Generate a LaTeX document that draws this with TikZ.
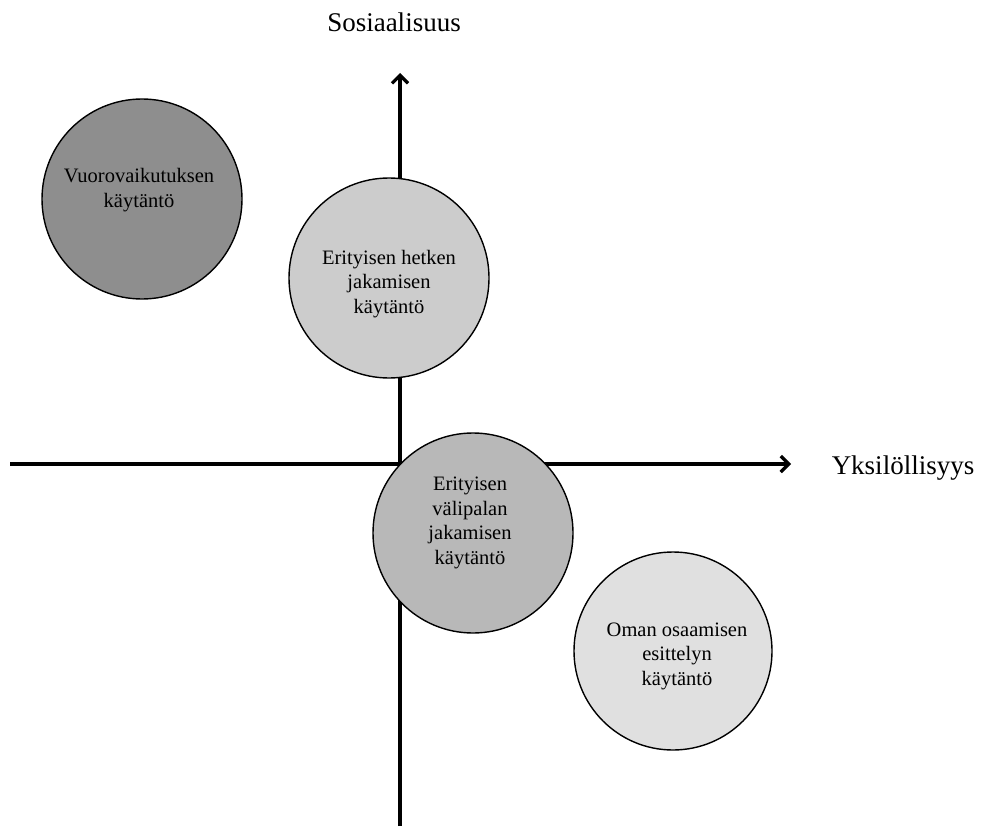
\documentclass[tikz,border=0pt]{standalone}
\usepackage{fontspec}
\setmainfont{Liberation Serif}
\usetikzlibrary{arrows.meta}
\definecolor{cdark}{HTML}{8E8E8E}
\definecolor{cmid}{HTML}{B8B8B8}
\definecolor{clight}{HTML}{CCCCCC}
\definecolor{cpale}{HTML}{E0E0E0}
\tikzset{
  axis/.style={line width=3.2pt,-{Straight Barb[length=8pt,width=16pt,line width=3.2pt]}},
  bubble/.style={circle,draw=black,line width=1.4pt,inner sep=0pt,minimum size=200pt},
  btext/.style={align=center,font=\fontsize{20.5}{24.5}\selectfont},
  axlabel/.style={font=\fontsize{27}{30}\selectfont}
}
\begin{document}
\begin{tikzpicture}[x=1pt,y=-1pt]
\useasboundingbox (0,0) rectangle (981,826);
\coordinate (vb) at (400,826);
\coordinate (vt) at (400,73);
\coordinate (hl) at (10,464);
\coordinate (hr) at (791,464);
\draw[axis] (vb) -- (vt);
\draw[axis] (hl) -- (hr);
\node[axlabel] (ylab) at (394,22) {Sosiaalisuus};
\node[axlabel] (xlab) at (903,468) {Yksilöllisyys};
\node[bubble,fill=cdark] (c1) at (142,199) {};
\node[btext] (t1) at (139,190) {Vuorovaikutuksen\\käytäntö};
\node[bubble,fill=clight] (c2) at (389,278) {};
\node[btext] (t2) at (389,284) {Erityisen hetken\\jakamisen\\käytäntö};
\node[bubble,fill=cmid] (c3) at (473,533) {};
\node[btext] (t3) at (470,523) {Erityisen\\välipalan\\jakamisen\\käytäntö};
\node[bubble,fill=cpale,minimum size=198pt] (c4) at (673,651) {};
\node[btext] (t4) at (677,656) {Oman osaamisen\\esittelyn\\käytäntö};
\end{tikzpicture}
\end{document}
